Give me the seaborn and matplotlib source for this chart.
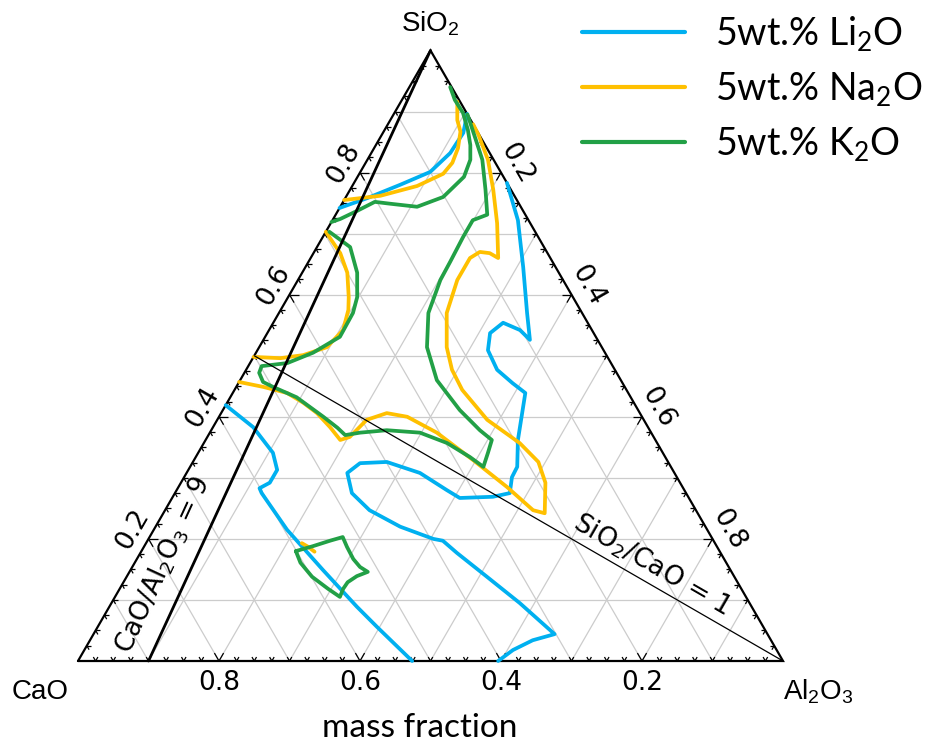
import numpy as np
import pandas as pd
import matplotlib
matplotlib.use("Agg")
import matplotlib.pyplot as plt
import seaborn as sns

# ---------------- data (mass fractions; CaO = 1 - SiO2 - Al2O3) ----------------
series_names = ["5wt.% Li$_2$O", "5wt.% Na$_2$O", "5wt.% K$_2$O"]
series_colors = ["#00b0f0", "#ffc000", "#22a046"]

li_a_sio2 = [0.742, 0.758, 0.780, 0.801, 0.832, 0.865, 0.896]
li_a_al2o3 = [0.000, 0.031, 0.067, 0.099, 0.112, 0.114, 0.104]

li_b_sio2 = [0.783, 0.722, 0.645, 0.570, 0.526, 0.542, 0.554, 0.537, 0.509, 0.477,
             0.455, 0.439, 0.406, 0.362, 0.318, 0.301, 0.275, 0.269, 0.267, 0.280,
             0.308, 0.326, 0.324, 0.308, 0.275, 0.247, 0.220, 0.200, 0.197, 0.177,
             0.138, 0.095, 0.044, 0.034, 0.018, 0.000]
li_b_al2o3 = [0.217, 0.263, 0.309, 0.352, 0.378, 0.356, 0.326, 0.316, 0.327, 0.356,
              0.389, 0.415, 0.427, 0.443, 0.464, 0.465, 0.475, 0.454, 0.408, 0.383,
              0.331, 0.275, 0.238, 0.228, 0.251, 0.290, 0.347, 0.404, 0.419, 0.449,
              0.511, 0.579, 0.654, 0.628, 0.608, 0.596]

li_c_sio2 = [0.419, 0.383, 0.341, 0.313, 0.292, 0.283, 0.275, 0.215, 0.149, 0.089, 0.056, 0.000]
li_c_al2o3 = [0.000, 0.057, 0.106, 0.126, 0.126, 0.116, 0.123, 0.189, 0.273, 0.351, 0.396, 0.474]

na_a_sio2 = [0.755, 0.762, 0.778, 0.798, 0.816, 0.840, 0.867, 0.886, 0.916]
na_a_al2o3 = [0.000, 0.048, 0.092, 0.119, 0.123, 0.119, 0.109, 0.095, 0.080]

na_b_sio2 = [0.879, 0.862, 0.821, 0.772, 0.717, 0.660, 0.668, 0.670, 0.660, 0.624,
             0.570, 0.514, 0.477, 0.444, 0.395, 0.357, 0.326, 0.292, 0.242, 0.247,
             0.285, 0.329, 0.374, 0.400, 0.406, 0.395, 0.367, 0.362, 0.383, 0.406,
             0.423, 0.439, 0.449, 0.457]
na_b_al2o3 = [0.121, 0.137, 0.171, 0.203, 0.236, 0.266, 0.250, 0.235, 0.226, 0.226,
              0.238, 0.266, 0.292, 0.323, 0.383, 0.448, 0.490, 0.517, 0.541, 0.522,
              0.466, 0.396, 0.322, 0.267, 0.235, 0.212, 0.202, 0.191, 0.166, 0.136,
              0.108, 0.077, 0.038, 0.000]

na_c_sio2 = [0.703, 0.668, 0.636, 0.596, 0.575, 0.542, 0.514, 0.501, 0.496, 0.498]
na_c_al2o3 = [0.000, 0.038, 0.064, 0.086, 0.096, 0.105, 0.096, 0.069, 0.039, 0.000]

na_d_sio2 = [0.193, 0.187, 0.179]
na_d_al2o3 = [0.221, 0.233, 0.246]

k_a_sio2 = [0.940, 0.919, 0.898, 0.870, 0.845, 0.821, 0.793, 0.760, 0.744, 0.749,
            0.752, 0.737, 0.724, 0.719]
k_a_al2o3 = [0.058, 0.075, 0.097, 0.118, 0.134, 0.146, 0.151, 0.138, 0.109, 0.068,
             0.045, 0.027, 0.010, 0.000]

k_b_sio2 = [0.703, 0.678, 0.636, 0.596, 0.570, 0.531, 0.505, 0.488, 0.483, 0.472,
            0.457, 0.449, 0.432, 0.400, 0.382, 0.370, 0.374, 0.378, 0.374, 0.357,
            0.334, 0.318, 0.341, 0.362, 0.378, 0.411, 0.460, 0.514, 0.570, 0.624,
            0.654, 0.695, 0.722, 0.731, 0.772, 0.821, 0.853, 0.895]
k_b_al2o3 = [0.005, 0.047, 0.078, 0.098, 0.105, 0.106, 0.081, 0.053, 0.019, 0.021,
             0.034, 0.052, 0.094, 0.148, 0.177, 0.194, 0.213, 0.249, 0.298, 0.345,
             0.389, 0.416, 0.411, 0.406, 0.381, 0.336, 0.279, 0.238, 0.212, 0.202,
             0.201, 0.199, 0.199, 0.215, 0.192, 0.163, 0.138, 0.105]

k_c_sio2 = [0.180, 0.188, 0.197, 0.203, 0.187, 0.167, 0.154, 0.146, 0.139, 0.129,
            0.118, 0.105, 0.118, 0.138, 0.161, 0.180]
k_c_al2o3 = [0.219, 0.239, 0.259, 0.274, 0.288, 0.307, 0.323, 0.338, 0.326, 0.318,
             0.317, 0.319, 0.296, 0.263, 0.235, 0.219]

tick_values = [0.2, 0.4, 0.6, 0.8]
grid_values = [0.1, 0.2, 0.3, 0.4, 0.5, 0.6, 0.7, 0.8, 0.9]
cao_al2o3_ratio = 9.0
sio2_cao_ratio = 1.0

# ---------------- helpers ----------------
R3 = np.sqrt(3) / 2


def cart(s, a):
    s = np.asarray(s, float)
    a = np.asarray(a, float)
    return a + s / 2, s * R3


curves = [
    (series_names[0], "li_a", li_a_sio2, li_a_al2o3),
    (series_names[0], "li_b", li_b_sio2, li_b_al2o3),
    (series_names[0], "li_c", li_c_sio2, li_c_al2o3),
    (series_names[1], "na_a", na_a_sio2, na_a_al2o3),
    (series_names[1], "na_b", na_b_sio2, na_b_al2o3),
    (series_names[1], "na_c", na_c_sio2, na_c_al2o3),
    (series_names[1], "na_d", na_d_sio2, na_d_al2o3),
    (series_names[2], "k_a", k_a_sio2, k_a_al2o3),
    (series_names[2], "k_b", k_b_sio2, k_b_al2o3),
    (series_names[2], "k_c", k_c_sio2, k_c_al2o3),
]
rows = []
for name, cid, s, a in curves:
    x, y = cart(s, a)
    for i, (xx, yy) in enumerate(zip(x, y)):
        rows.append({"series": name, "curve": cid, "order": i, "x": xx, "y": yy})
df = pd.DataFrame(rows)

# ---------------- figure ----------------
sns.set_theme(style="white")
plt.rcParams["font.family"] = ["Liberation Sans", "DejaVu Sans"]
plt.rcParams["mathtext.default"] = "regular"
plt.rcParams["text.color"] = "black"

W, H = 931, 744
fig = plt.figure(figsize=(W / 100, H / 100), dpi=100)
ax = fig.add_axes([0, 0, 1, 1])
x0px, y0px, side = 78, 661, 705
ax.set_xlim(-x0px / side, (W - x0px) / side)
ax.set_ylim((y0px - H) / side, y0px / side)
ax.set_axis_off()

# grid
gcol = "#cccccc"
for v in grid_values:
    for (s1, a1, s2, a2) in [(v, 0, v, 1 - v), (0, v, 1 - v, v), (0, 1 - v, 1 - v, 0)]:
        xx, yy = cart([s1, s2], [a1, a2])
        ax.plot(xx, yy, color=gcol, lw=0.9, zorder=1)

# ticks
dirs = {
    "bottom": [(0.5, R3), (-0.5, R3)],
    "left": [(1.0, 0.0), (0.5, -R3)],
    "right": [(-1.0, 0.0), (-0.5, -R3)],
}
for k in range(1, 40):
    t = k * 0.025
    major = (k % 8 == 0)
    L = 0.013 if major else 0.0065
    pts = {
        "bottom": cart(0, t),
        "left": cart(t, 0),
        "right": cart(1 - t, t),
    }
    for edge, (px, py) in pts.items():
        for dx, dy in dirs[edge]:
            ax.plot([px, px + L * dx], [py, py + L * dy], color="black", lw=0.9,
                    zorder=3, solid_capstyle="butt")

# triangle
tx, ty = cart([0, 0, 1, 0], [0, 1, 0, 0])
ax.plot(tx, ty, color="black", lw=1.6, zorder=4, solid_joinstyle="miter")

# curves
sns.lineplot(data=df, x="x", y="y", hue="series", units="curve", estimator=None,
             sort=False, palette=dict(zip(series_names, series_colors)),
             hue_order=series_names, lw=2.7, ax=ax, zorder=5, legend=True)
for ln in ax.lines[-10:]:
    ln.set_solid_capstyle("round")
    ln.set_solid_joinstyle("round")

# ratio lines
ca = cao_al2o3_ratio / (cao_al2o3_ratio + 1)
xx, yy = cart([0, 1], [1 - ca, 0])
ax.plot(xx, yy, color="black", lw=2.0, zorder=6)
sc = sio2_cao_ratio / (sio2_cao_ratio + 1)
xx, yy = cart([sc, 0], [0, 1])
ax.plot(xx, yy, color="black", lw=0.9, zorder=6)

def px2c(px, py):
    return (px - x0px) / side, (y0px - py) / side

narrow = ["Liberation Sans Narrow", "DejaVu Sans"]
tfs = 19
# tick labels
off = 0.026
for v in tick_values:
    bx, by = cart(0, 1 - v)
    ax.text(bx, by - 0.031, f"{v:.1f}", ha="center", va="center", fontsize=tfs,
            family=narrow)
    lx, ly = cart(v, 0)
    ax.text(lx - off * R3, ly + off * 0.5, f"{v:.1f}", ha="center", va="center",
            fontsize=tfs, rotation=60, family=narrow, rotation_mode="anchor")
    rx, ry = cart(1 - v, v)
    ax.text(rx + off * R3, ry + off * 0.5, f"{v:.1f}", ha="center", va="center",
            fontsize=tfs, rotation=-60, family=narrow, rotation_mode="anchor")

# corner labels
lab = ["Liberation Sans", "DejaVu Sans"]
ax.text(*px2c(40, 692), "CaO", ha="center", va="center", fontsize=20, family=lab)
ax.text(*px2c(818, 692), "Al$_2$O$_3$", ha="center", va="center", fontsize=20, family=lab)
ax.text(*px2c(430, 24), "SiO$_2$", ha="center", va="center", fontsize=20, family=lab)
ax.text(*px2c(420, 728), "mass fraction", ha="center", va="center", fontsize=24,
        family=["Lato", "DejaVu Sans"])

# ratio annotations
ax.text(*px2c(163, 565), "CaO/Al$_2$O$_3$ = 9", ha="center", va="center", fontsize=19,
        rotation=65.2, rotation_mode="anchor", family=narrow)
ax.text(*px2c(652, 565), "SiO$_2$/CaO = 1", ha="center", va="center", fontsize=19,
        rotation=-30, rotation_mode="anchor", family=narrow)

# legend
sns.move_legend(ax, "upper left", bbox_to_anchor=(582 / W, 1 - 14 / H), frameon=False,
                title=None, fontsize=27, handlelength=2.75, handletextpad=0.8,
                labelspacing=0.45, borderpad=0, borderaxespad=0)
leg = ax.get_legend()
for t in leg.get_texts():
    t.set_family(["Lato", "DejaVu Sans"])
for h in leg.get_lines():
    h.set_linewidth(3.0)

fig.savefig("out.png", dpi=100)
